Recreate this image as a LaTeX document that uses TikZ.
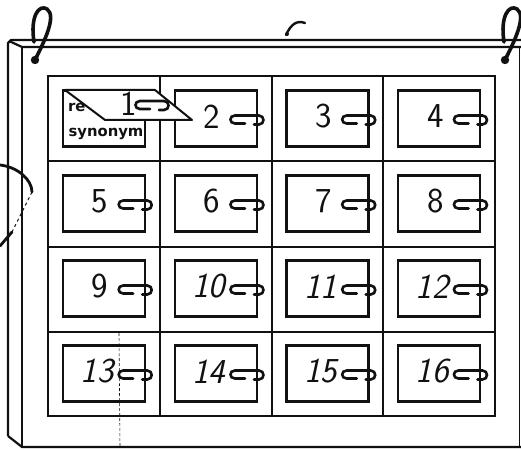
\documentclass[tikz,border=0pt]{standalone}
\usepackage{fontspec}
\usepackage{tikz}
\usetikzlibrary{calc}
\newfontfamily\cardfont{DejaVu Sans}
\definecolor{inkblack}{HTML}{111111}

\tikzset{
  board/.style={draw=inkblack, line width=2.2pt, line join=round},
  gridline/.style={draw=inkblack, line width=2.2pt},
  card/.style={draw=inkblack, line width=2.4pt, minimum width=82pt,
               minimum height=56pt, inner sep=0pt},
  numlabel/.style={inkblack, inner sep=0pt,
                   font=\sffamily\fontsize{35}{35}\selectfont},
  hookline/.style={draw=inkblack, line width=2.6pt, line cap=round},
  ringline/.style={draw=inkblack, line width=3.6pt, line cap=round},
  cardtext/.style={inkblack, inner sep=0pt,
                   font=\cardfont\bfseries\fontsize{14.8}{14.8}\selectfont},
}

\newcommand{\drawclip}[1]{%
  \draw[hookline] ($#1+(-13,5)$) -- ++(-10,0)
    .. controls +(-6,0) and +(-6,0) .. ++(0,-8) -- ++(24,0)
    .. controls +(6,0) and +(6,0) .. ++(0,9) -- ++(-5,0);}

\begin{document}
\begin{tikzpicture}[x=1pt, y=-1pt]
  \useasboundingbox (0,0) rectangle (521,449);

  %% Board: left side, thin top face, front face
  \draw[board] (8,436) -- (8,43) -- (11,40) -- (521,40);
  \draw[board] (9,41) -- (22,47) -- (521,47);
  \draw[board] (22,47) -- (22,447);
  \draw[board] (8,436) -- (22,447) -- (521,447);
  \draw[inkblack, line width=0.7pt] (519,47) -- (519,447);

  %% Rings
  \draw[ringline] (35,60) .. controls (44,42) and (57,16) .. (47,9)
    .. controls (39,4) and (30,16) .. (34,42);
  \fill[inkblack] (35,60) circle (4.2);
  \begin{scope}[xshift=470pt]
    \draw[ringline] (35,60) .. controls (44,42) and (57,16) .. (47,9)
      .. controls (39,4) and (30,16) .. (34,42);
    \fill[inkblack] (35,60) circle (4.2);
  \end{scope}

  %% Grid of pockets
  \draw[gridline] (48,76) rectangle (495,416);
  \foreach \gx in {160,272,383}
    \draw[gridline] (\gx,76) -- (\gx,416);
  \foreach \gy in {161,247,332}
    \draw[gridline] (48,\gy) -- (495,\gy);

  %% Cards
  \foreach \n in {1,...,16} {
    \pgfmathtruncatemacro\col{mod(\n-1,4)}
    \pgfmathtruncatemacro\row{div(\n-1,4)}
    \node[card] (card\n) at ({104+111.75*\col},{118.5+85*\row}) {};
  }

  %% Numbers and clips
  \foreach \n in {2,...,16} {
    \pgfmathtruncatemacro\dx{\n>9 ? -7 : -4}
    \node[numlabel] (num\n) at ($(card\n.center)+(\dx,-2)$)
      {\ifnum\n>9 \itshape\fi\n};
    \drawclip{(card\n.east)}
  }

  %% Card 1 with its turned-over flap
  \node[cardtext, anchor=base west] (cardre) at (68,112) {re};
  \node[cardtext, anchor=base] (cardsyn) at (106,137) {synonym};
  \draw[board, fill=white, line width=2pt]
    (65,90) -- (155,90) -- (192,120) -- (105,120) -- cycle;
  \node[numlabel] (num1) at (129,104) {1};
  \coordinate (flapclip) at (163,104);
  \drawclip{(flapclip)}

  %% Marks along the left side and top
  \draw[inkblack, line width=2.8pt, line cap=round]
    (0,165) .. controls (18,167) and (32,180) .. (32,192);
  \draw[inkblack, line width=1pt, dashed] (32,192) -- (12,232);
  \draw[inkblack, line width=2.8pt, line cap=round] (12,232) -- (0,246);
  \draw[inkblack, line width=2.4pt, line cap=round]
    (286,35) .. controls (291,24) and (297,20) .. (305,23);
  \fill[inkblack] (287,34) circle (2);
  \draw[inkblack, line width=0.6pt, densely dashed] (119,333) -- (120,447);
\end{tikzpicture}
\end{document}
